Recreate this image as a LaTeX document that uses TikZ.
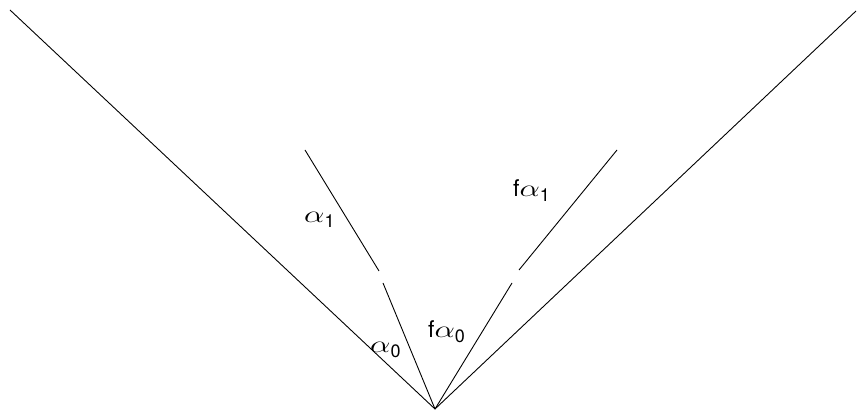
\documentclass[tikz,border=0pt]{standalone}
\usepackage{fix-cm}
\usepackage{graphicx}
\usepackage{fontspec}
\setmainfont{TeX Gyre Heros}
\newcommand\mylbl[2]{{\fontsize{23}{25}\selectfont #1}{\fontsize{24}{26}\selectfont\scalebox{1.35}[1]{$\alpha$}}\raisebox{-5pt}{\fontsize{18}{20}\selectfont #2}}
\begin{document}
\begin{tikzpicture}[x=1pt,y=-1pt,
  ray/.style={line width=0.9pt,black},
  lbl/.style={inner sep=0pt}]
\useasboundingbox (0,0) rectangle (860,411);
\coordinate (O) at (435,409);
\coordinate (L) at (10,10);
\coordinate (R) at (856,11);
\coordinate (a0) at (383,283);
\coordinate (a1b) at (379,271);
\coordinate (a1t) at (305,150);
\coordinate (f0) at (512,283);
\coordinate (f1b) at (519,270);
\coordinate (f1t) at (617,150);
\draw[ray] (L) -- (O) -- (R);
\draw[ray] (O) -- (a0);
\draw[ray] (a1b) -- (a1t);
\draw[ray] (O) -- (f0);
\draw[ray] (f1b) -- (f1t);
\node[lbl,anchor=base west] (la1) at (304,223) {\mylbl{}{1}};
\node[lbl,anchor=base west] (la0) at (370,353) {\mylbl{}{0}};
\node[lbl,anchor=base west] (lf1) at (513,197) {\mylbl{f}{1}};
\node[lbl,anchor=base west] (lf0) at (428,338) {\mylbl{f}{0}};
\end{tikzpicture}
\end{document}
